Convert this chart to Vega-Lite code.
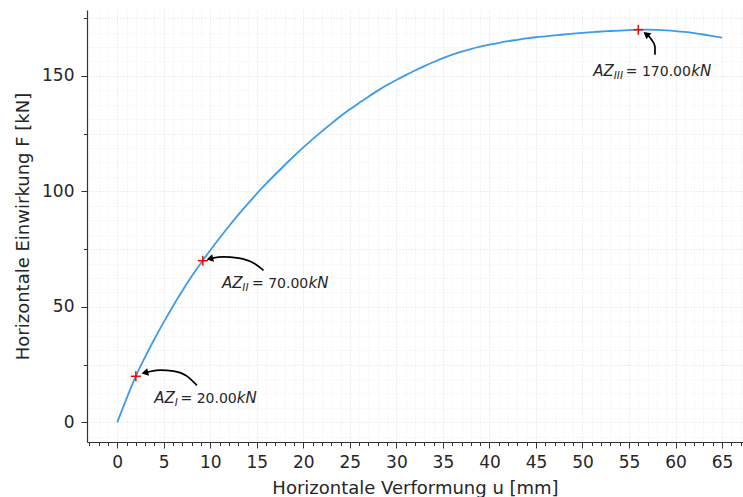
{
  "$schema": "https://vega.github.io/schema/vega-lite/v6.json",
  "width": 656,
  "height": 432,
  "autosize": "none",
  "padding": {"left": 87, "top": 10, "right": 0, "bottom": 55},
  "background": "white",
  "config": {
    "view": {"stroke": null},
    "font": "DejaVu Sans",
    "axis": {"labelFont": "DejaVu Sans", "titleFont": "DejaVu Sans", "labelColor": "#262626", "titleColor": "#262626"}
  },
  "datasets": {
    "curve": [
      {"u": 0, "F": 0}, {"u": 1, "F": 10.3}, {"u": 2, "F": 20}, {"u": 3, "F": 28.3}, {"u": 4, "F": 36.1},
      {"u": 5, "F": 43.4}, {"u": 6, "F": 50.4}, {"u": 7, "F": 57.0}, {"u": 8, "F": 63.2}, {"u": 9, "F": 69.0},
      {"u": 10, "F": 74.5}, {"u": 11, "F": 79.8}, {"u": 12, "F": 84.9}, {"u": 13, "F": 89.8}, {"u": 14, "F": 94.5},
      {"u": 15, "F": 99.0}, {"u": 16, "F": 103.3}, {"u": 17, "F": 107.4}, {"u": 18, "F": 111.4}, {"u": 19, "F": 115.3},
      {"u": 20, "F": 119.0}, {"u": 21, "F": 122.6}, {"u": 22, "F": 126.0}, {"u": 23, "F": 129.3}, {"u": 24, "F": 132.5},
      {"u": 25, "F": 135.5}, {"u": 26, "F": 138.3}, {"u": 27, "F": 141.0}, {"u": 28, "F": 143.6}, {"u": 29, "F": 146.0},
      {"u": 30, "F": 148.2}, {"u": 31, "F": 150.3}, {"u": 32, "F": 152.3}, {"u": 33, "F": 154.2}, {"u": 34, "F": 156.0},
      {"u": 35, "F": 157.7}, {"u": 36, "F": 159.2}, {"u": 37, "F": 160.5}, {"u": 38, "F": 161.6}, {"u": 39, "F": 162.6},
      {"u": 40, "F": 163.5}, {"u": 41, "F": 164.3}, {"u": 42, "F": 165.0}, {"u": 43, "F": 165.6}, {"u": 44, "F": 166.2},
      {"u": 45, "F": 166.7}, {"u": 46, "F": 167.1}, {"u": 47, "F": 167.5}, {"u": 48, "F": 167.9}, {"u": 49, "F": 168.3},
      {"u": 50, "F": 168.6}, {"u": 51, "F": 168.9}, {"u": 52, "F": 169.2}, {"u": 53, "F": 169.4}, {"u": 54, "F": 169.6},
      {"u": 55, "F": 169.8}, {"u": 56, "F": 170.0}, {"u": 57, "F": 170.0}, {"u": 58, "F": 169.9}, {"u": 59, "F": 169.7},
      {"u": 60, "F": 169.4}, {"u": 61, "F": 169.0}, {"u": 62, "F": 168.5}, {"u": 63, "F": 167.9}, {"u": 64, "F": 167.2},
      {"u": 65, "F": 166.5}
    ],
    "markers": [
      {"u": 2, "F": 20}, {"u": 9.2, "F": 70}, {"u": 56, "F": 170}
    ],
    "arrows": [
      {"id": "I", "seq": 1, "u": 8.56, "F": 16.0}, {"id": "I", "seq": 2, "u": 7.49, "F": 20.0}, {"id": "I", "seq": 3, "u": 6.05, "F": 22.2},
      {"id": "I", "seq": 4, "u": 4.62, "F": 22.6}, {"id": "I", "seq": 5, "u": 3.54, "F": 22.0}, {"id": "I", "seq": 6, "u": 2.97, "F": 21.45},
      {"id": "II", "seq": 1, "u": 15.72, "F": 65.8}, {"id": "II", "seq": 2, "u": 14.64, "F": 69.0}, {"id": "II", "seq": 3, "u": 12.86, "F": 71.2},
      {"id": "II", "seq": 4, "u": 11.42, "F": 71.6}, {"id": "II", "seq": 5, "u": 10.35, "F": 71.2}, {"id": "II", "seq": 6, "u": 9.95, "F": 70.8},
      {"id": "III", "seq": 1, "u": 57.79, "F": 159.1}, {"id": "III", "seq": 2, "u": 57.79, "F": 162.7}, {"id": "III", "seq": 3, "u": 57.43, "F": 165.6},
      {"id": "III", "seq": 4, "u": 57.1, "F": 167.3}, {"id": "III", "seq": 5, "u": 56.85, "F": 168.1}
    ],
    "headsLeft": [
      {"u": 2.97, "F": 21.45}, {"u": 9.95, "F": 70.8}
    ],
    "headsUp": [
      {"u": 56.85, "F": 168.1}
    ],
    "labels": [
      {"part": "main", "t": "AZ", "u": 3.97, "F": 8.52},
      {"part": "sub", "t": "I", "u": 6.18, "F": 7.13},
      {"part": "num", "t": "= 20.00", "u": 6.8, "F": 8.52},
      {"part": "unit", "t": "kN", "u": 12.85, "F": 8.52},
      {"part": "main", "t": "AZ", "u": 11.25, "F": 58.37},
      {"part": "sub", "t": "II", "u": 13.44, "F": 56.98},
      {"part": "num", "t": "= 70.00", "u": 14.48, "F": 58.37},
      {"part": "unit", "t": "kN", "u": 20.55, "F": 58.37},
      {"part": "main", "t": "AZ", "u": 51.16, "F": 150.0},
      {"part": "sub", "t": "III", "u": 53.36, "F": 148.6},
      {"part": "num", "t": "= 170.00", "u": 54.65, "F": 150.0},
      {"part": "unit", "t": "kN", "u": 61.7, "F": 150.0}
    ]
  },
  "resolve": {"axis": {"x": "independent", "y": "independent"}},
  "layer": [
    {
      "data": {"name": "arrows"},
      "mark": {"type": "line", "color": "#000000", "strokeWidth": 1.7, "interpolate": "monotone"},
      "encoding": {
        "x": {"field": "u", "type": "quantitative", "scale": {"domain": [-3.25, 67.25], "nice": false, "zero": false}, "axis": null},
        "y": {"field": "F", "type": "quantitative", "scale": {"domain": [-8.5, 178.5], "nice": false, "zero": false},
              "axis": {"orient": "left", "values": [-6.25, 6.25, 12.5, 18.75, 31.25, 37.5, 43.75, 56.25, 62.5, 68.75, 81.25, 87.5, 93.75, 106.25, 112.5, 118.75, 131.25, 137.5, 143.75, 156.25, 162.5, 168.75],
                       "grid": true, "gridColor": "#efefef", "gridDash": [1, 2], "gridWidth": 1,
                       "ticks": false, "labels": false, "domain": false, "title": null}},
        "detail": {"field": "id"},
        "order": {"field": "seq", "type": "quantitative"}
      }
    },
    {
      "data": {"name": "curve"},
      "mark": {"type": "line", "color": "#3d9be9", "strokeWidth": 1.8, "interpolate": "monotone"},
      "encoding": {
        "x": {"field": "u", "type": "quantitative",
              "axis": {"orient": "bottom", "values": [0, 5, 10, 15, 20, 25, 30, 35, 40, 45, 50, 55, 60, 65],
                       "title": "Horizontale Verformung u [mm]", "titleFontSize": 18, "titleFontWeight": "normal", "titlePadding": 9,
                       "labelFontSize": 17, "labelPadding": 6, "labelOverlap": false, "labelFlush": false,
                       "tickSize": 6, "tickColor": "#333333", "tickWidth": 1, "domainColor": "#333333", "domainWidth": 1.2,
                       "grid": true, "gridColor": "#dedede", "gridDash": [1, 2], "gridWidth": 1}},
        "y": {"field": "F", "type": "quantitative",
              "axis": {"orient": "left", "values": [0, 50, 100, 150],
                       "title": "Horizontale Einwirkung F [kN]", "titleFontSize": 18, "titleFontWeight": "normal", "titlePadding": 9,
                       "labelFontSize": 17, "labelPadding": 7, "labelOverlap": false, "labelFlush": false,
                       "tickSize": 6, "tickColor": "#333333", "tickWidth": 1, "domainColor": "#333333", "domainWidth": 1.2,
                       "grid": true, "gridColor": "#dedede", "gridDash": [1, 2], "gridWidth": 1}}
      }
    },
    {
      "data": {"name": "markers"},
      "mark": {"type": "point", "shape": "M-1,0L1,0M0,-1L0,1", "size": 100, "filled": false, "stroke": "#ff0000", "strokeWidth": 1.5, "opacity": 1},
      "encoding": {
        "x": {"field": "u", "type": "quantitative",
              "axis": {"orient": "bottom", "values": [-3, -2, -1, 0, 1, 2, 3, 4, 5, 6, 7, 8, 9, 10, 11, 12, 13, 14, 15, 16, 17, 18, 19, 20, 21, 22, 23, 24, 25, 26, 27, 28, 29, 30, 31, 32, 33, 34, 35, 36, 37, 38, 39, 40, 41, 42, 43, 44, 45, 46, 47, 48, 49, 50, 51, 52, 53, 54, 55, 56, 57, 58, 59, 60, 61, 62, 63, 64, 65, 66, 67],
                       "grid": true, "gridColor": "#ececec", "gridDash": [1, 2], "gridWidth": 1,
                       "tickSize": 3.5, "tickColor": "#333333", "labels": false, "domain": false, "title": null}},
        "y": {"field": "F", "type": "quantitative",
              "axis": {"orient": "left", "values": [25, 75, 125, 175],
                       "grid": true, "gridColor": "#dedede", "gridDash": [1, 2], "gridWidth": 1,
                       "tickSize": 3.5, "tickColor": "#333333", "labels": false, "domain": false, "title": null}}
      }
    },
    {
      "data": {"name": "headsLeft"},
      "mark": {"type": "point", "shape": "triangle-up", "size": 60, "filled": true, "color": "#000000", "angle": 256, "opacity": 1},
      "encoding": {
        "x": {"field": "u", "type": "quantitative", "axis": null},
        "y": {"field": "F", "type": "quantitative", "axis": null}
      }
    },
    {
      "data": {"name": "headsUp"},
      "mark": {"type": "point", "shape": "triangle-up", "size": 60, "filled": true, "color": "#000000", "angle": 309, "opacity": 1},
      "encoding": {
        "x": {"field": "u", "type": "quantitative", "axis": null},
        "y": {"field": "F", "type": "quantitative", "axis": null}
      }
    },
    {
      "data": {"name": "labels"},
      "transform": [{"filter": "datum.part === 'main'"}],
      "mark": {"type": "text", "align": "left", "baseline": "alphabetic", "fontSize": 15, "fontStyle": "italic", "color": "#262626"},
      "encoding": {
        "x": {"field": "u", "type": "quantitative", "axis": null},
        "y": {"field": "F", "type": "quantitative", "axis": null},
        "text": {"field": "t"}
      }
    },
    {
      "data": {"name": "labels"},
      "transform": [{"filter": "datum.part === 'sub'"}],
      "mark": {"type": "text", "align": "left", "baseline": "alphabetic", "fontSize": 10.5, "fontStyle": "italic", "color": "#262626"},
      "encoding": {
        "x": {"field": "u", "type": "quantitative", "axis": null},
        "y": {"field": "F", "type": "quantitative", "axis": null},
        "text": {"field": "t"}
      }
    },
    {
      "data": {"name": "labels"},
      "transform": [{"filter": "datum.part === 'num'"}],
      "mark": {"type": "text", "align": "left", "baseline": "alphabetic", "fontSize": 14, "color": "#262626"},
      "encoding": {
        "x": {"field": "u", "type": "quantitative", "axis": null},
        "y": {"field": "F", "type": "quantitative", "axis": null},
        "text": {"field": "t"}
      }
    },
    {
      "data": {"name": "labels"},
      "transform": [{"filter": "datum.part === 'unit'"}],
      "mark": {"type": "text", "align": "left", "baseline": "alphabetic", "fontSize": 15, "fontStyle": "italic", "color": "#262626"},
      "encoding": {
        "x": {"field": "u", "type": "quantitative", "axis": null},
        "y": {"field": "F", "type": "quantitative", "axis": null},
        "text": {"field": "t"}
      }
    }
  ]
}
